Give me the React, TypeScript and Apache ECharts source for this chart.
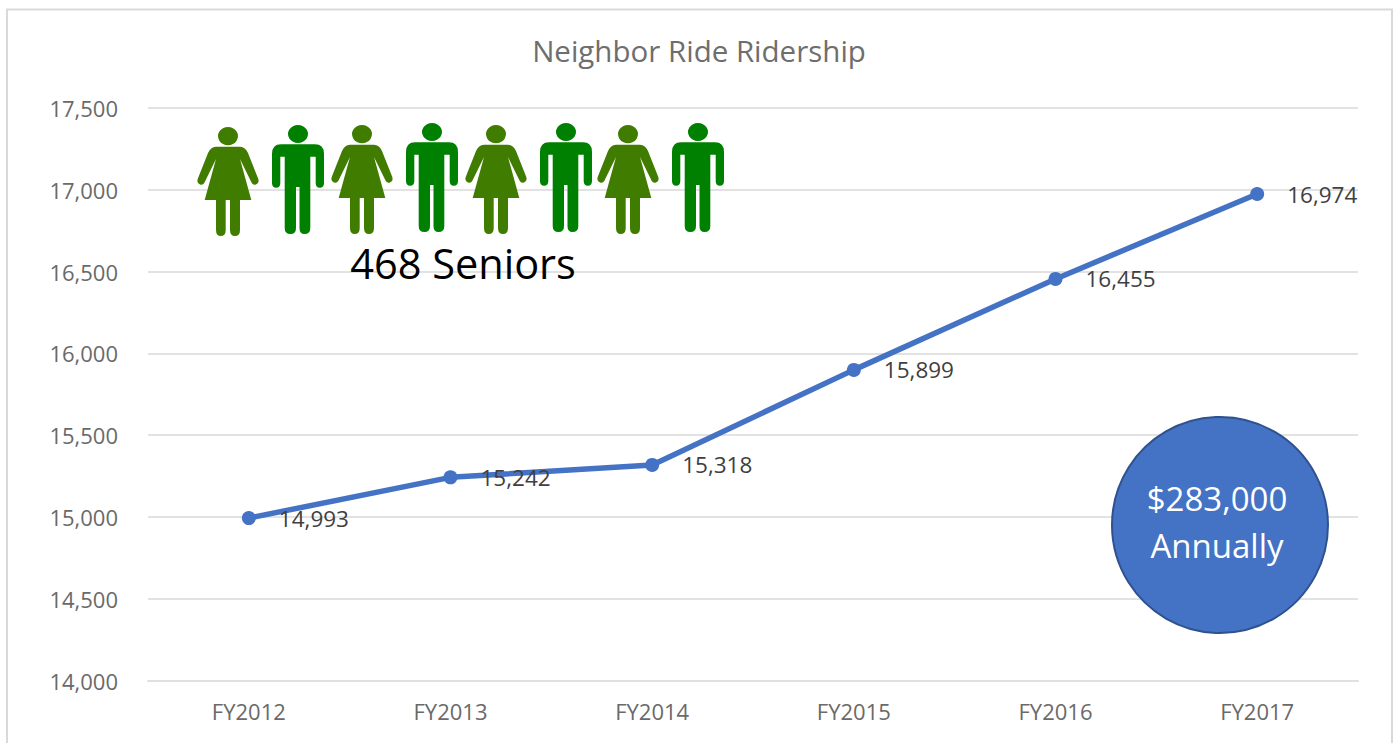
import React, { useEffect, useRef } from "react";
import * as echarts from "echarts";

const categories = ["FY2012", "FY2013", "FY2014", "FY2015", "FY2016", "FY2017"];
const ridership = [14993, 15242, 15318, 15899, 16455, 16974];
const yTicks = { min: 14000, max: 17500, interval: 500 };
const titleText = "Neighbor Ride Ridership";
const seniorsText = "468 Seniors";
const costLines = ["$283,000", "Annually"];

const womenPos = [[198, 127], [332, 125], [466, 125], [598, 125]];
const menPos = [[272, 125], [406, 123], [540, 123], [672, 123]];

const FONT = '"Open Sans", "Noto Sans", sans-serif';

const womanPath =
  "M30,0 A10,9.1 0 1 1 29.99,0 Z " +
  "M18,19.7 L42,19.7 Q47.5,20 50,26 L60.3,52 Q61.5,56 58,57.5 Q55,58.5 53.5,55.5 L42,32 L53.3,73 L42,73 L42,103 Q42,109 37,109 Q32,109 32,103 L32,73 L27.7,73 L27.7,103 Q27.7,109 22.8,109 Q18,109 18,103 L18,73 L6.7,73 L18,32 L6.5,55.5 Q5,58.5 2,57.5 Q-1.5,56 -0.3,52 L10,26 Q12.5,20 18,19.7 Z";
const manPath =
  "M26,0 A10,9 0 1 1 25.99,0 Z " +
  "M9,19.3 L43,19.3 Q52,19.3 52,29 L52,58 Q52,62.7 47.8,62.7 Q43.7,62.7 43.7,58 L43.7,31.7 L38.3,31.7 L38.3,103 Q38.3,109 32.5,109 Q27.5,109 27.5,103 L27.5,62 L24,62 L24,103 Q24,109 18.5,109 Q12.7,109 12.7,103 L12.7,31.7 L8.3,31.7 L8.3,58 Q8.3,62.7 4.2,62.7 Q0,62.7 0,58 L0,29 Q0,19.3 9,19.3 Z";

echarts.graphic.registerShape("womanIcon", echarts.graphic.extendPath(womanPath, {}));
echarts.graphic.registerShape("manIcon", echarts.graphic.extendPath(manPath, {}));

export default function App() {
  const ref = useRef<HTMLDivElement>(null);
  useEffect(() => {
    document.body.style.margin = "0";
    const chart = echarts.init(ref.current!, null, { renderer: "svg" });
    chart.setOption({
      animation: false,
      backgroundColor: "#ffffff",
      title: {
        text: titleText,
        left: 694,
        top: 30,
        textAlign: "center",
        textStyle: { color: "#6e6e6e", fontFamily: FONT, fontSize: 29.5, fontWeight: "normal" },
      },
      grid: { left: 148, right: 40, top: 108, bottom: 62.5, containLabel: false },
      xAxis: {
        type: "category",
        data: categories,
        axisLine: { lineStyle: { color: "#e0e0e0", width: 2 } },
        axisTick: { show: false },
        axisLabel: { color: "#6a6a6a", fontFamily: FONT, fontSize: 22, margin: 19 },
      },
      yAxis: {
        type: "value",
        ...yTicks,
        axisLine: { show: false },
        axisTick: { show: false },
        splitLine: { lineStyle: { color: "#e2e2e2", width: 2 } },
        axisLabel: {
          color: "#6a6a6a",
          fontFamily: FONT,
          fontSize: 22,
          margin: 30,
          formatter: (v: number) => v.toLocaleString("en-US"),
        },
      },
      series: [
        {
          type: "line",
          data: ridership,
          lineStyle: { color: "#4472c4", width: 5.5 },
          itemStyle: { color: "#4472c4" },
          symbol: "circle",
          symbolSize: 14,
          label: {
            show: true,
            position: "right",
            distance: 23,
            color: "#404040",
            fontFamily: FONT,
            fontSize: 22.5,
            formatter: (p: any) => Number(p.value).toLocaleString("en-US"),
          },
        },
      ],
      graphic: [
        {
          type: "rect",
          z: 1,
          shape: { x: 7, y: 9.5, width: 1385, height: 800 },
          style: { fill: "none", stroke: "#d9d9d9", lineWidth: 2 },
          silent: true,
        },
        ...womenPos.map(([x, y]) => ({
          type: "womanIcon", x, y, z: 100, style: { fill: "#407c00" },
        })),
        ...menPos.map(([x, y]) => ({
          type: "manIcon", x, y, z: 100, style: { fill: "#008000" },
        })),
        {
          type: "text",
          x: 463,
          y: 263,
          z: 100,
          style: {
            text: seniorsText, fill: "#000000", font: `41.5px ${FONT}`,
            textAlign: "center", textVerticalAlign: "middle",
          },
        },
        {
          type: "circle",
          z: 100,
          shape: { cx: 1220, cy: 525, r: 108 },
          style: { fill: "#4472c4", stroke: "#2f528f", lineWidth: 2 },
        },
        ...costLines.map((text, i) => ({
          type: "text",
          x: 1217,
          y: 498 + i * 47,
          z: 101,
          style: {
            text, fill: "#ffffff", font: `33px ${FONT}`,
            textAlign: "center", textVerticalAlign: "middle",
          },
        })),
      ],
    });
    return () => chart.dispose();
  }, []);
  return <div ref={ref} style={{ width: 1398, height: 743 }} />;
}
